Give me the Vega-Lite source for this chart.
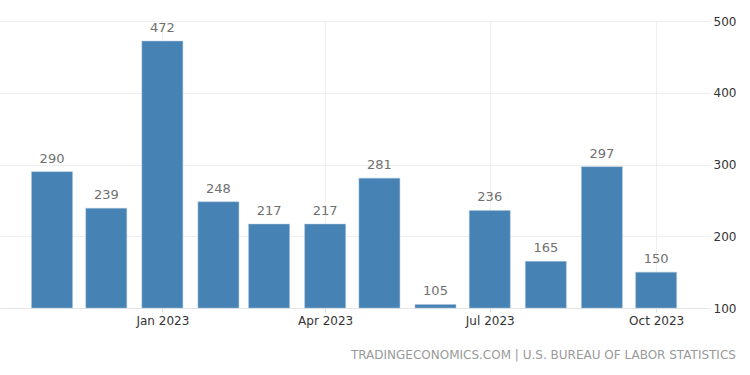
{
  "$schema": "https://vega.github.io/schema/vega-lite/v6.json",
  "width": 710,
  "height": 287,
  "autosize": {"type": "none"},
  "padding": {"left": 0, "top": 21, "right": 40, "bottom": 67},
  "background": "white",
  "config": {
    "view": {"stroke": null},
    "font": "DejaVu Sans"
  },
  "title": {
    "text": "TRADINGECONOMICS.COM | U.S. BUREAU OF LABOR STATISTICS",
    "orient": "bottom",
    "anchor": "end",
    "frame": "bounds",
    "offset": 24,
    "fontSize": 12,
    "fontWeight": "normal",
    "color": "#999999",
    "font": "DejaVu Sans"
  },
  "data": {
    "values": [
      {"date": "2022-11-01", "value": 290},
      {"date": "2022-12-01", "value": 239},
      {"date": "2023-01-01", "value": 472},
      {"date": "2023-02-01", "value": 248},
      {"date": "2023-03-01", "value": 217},
      {"date": "2023-04-01", "value": 217},
      {"date": "2023-05-01", "value": 281},
      {"date": "2023-06-01", "value": 105},
      {"date": "2023-07-01", "value": 236},
      {"date": "2023-08-01", "value": 165},
      {"date": "2023-09-01", "value": 297},
      {"date": "2023-10-01", "value": 150}
    ]
  },
  "encoding": {
    "x": {
      "field": "date",
      "type": "temporal",
      "scale": {
        "type": "utc",
        "nice": false,
        "domain": [
          {"year": 2022, "month": 10, "date": 6, "utc": true},
          {"year": 2023, "month": 10, "date": 28, "utc": true}
        ]
      },
      "axis": {
        "title": null,
        "format": "%b %Y",
        "tickCount": {"interval": "month", "step": 3},
        "domain": true,
        "domainColor": "#e6e6e6",
        "grid": true,
        "gridColor": "#efefef",
        "tickColor": "#e0e0e0",
        "tickSize": 4,
        "labelPadding": 3,
        "labelFontSize": 12,
        "labelColor": "#333333",
        "labelFlush": false
      }
    },
    "y": {
      "field": "value",
      "type": "quantitative",
      "scale": {"domain": [100, 500], "nice": false, "zero": false},
      "axis": {
        "orient": "right",
        "title": null,
        "values": [100, 200, 300, 400, 500],
        "domain": false,
        "ticks": false,
        "grid": true,
        "gridColor": "#efefef",
        "labelPadding": 3,
        "labelFontSize": 12,
        "labelColor": "#333333",
        "labelAlign": "left",
        "labelBaseline": "middle"
      }
    }
  },
  "layer": [
    {
      "mark": {"type": "bar", "width": 41, "color": "#4682b4", "stroke": "#aac4dc", "strokeWidth": 0.5},
      "encoding": {"y2": {"datum": 100}}
    },
    {
      "mark": {"type": "text", "baseline": "alphabetic", "dy": -9, "fontSize": 13, "color": "#707070"},
      "encoding": {"text": {"field": "value", "type": "quantitative"}}
    }
  ]
}
